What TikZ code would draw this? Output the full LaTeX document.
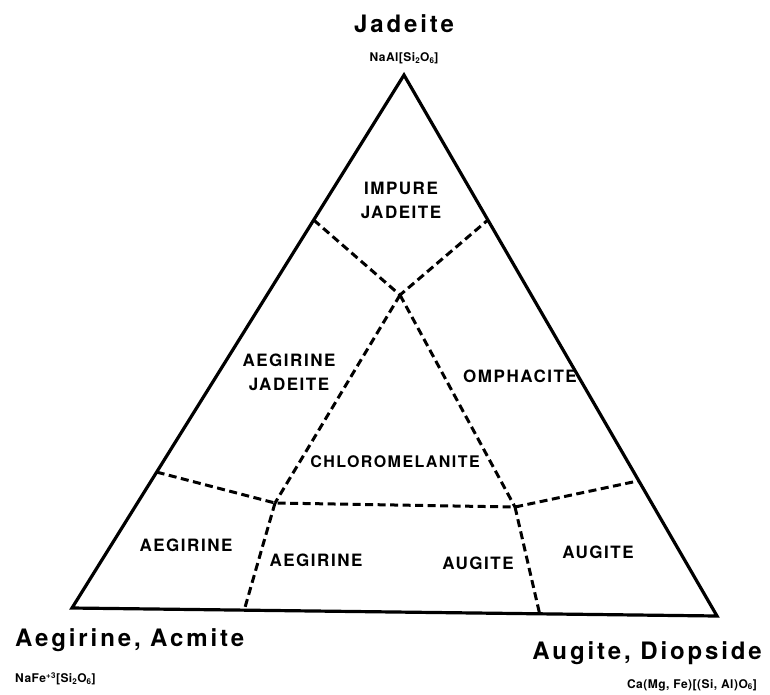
\documentclass[tikz,border=0pt]{standalone}
\usepackage{fontspec}
\setmainfont{TeX Gyre Heros}
\newfontfamily\titlefont[LetterSpace=12]{TeX Gyre Heros}
\newfontfamily\labfont[LetterSpace=9]{TeX Gyre Heros}
\newfontfamily\formfont[LetterSpace=4]{TeX Gyre Heros}
\usetikzlibrary{calc}
\begin{document}
\begin{tikzpicture}[x=1pt,y=-1pt,
  edge/.style={line width=3.2pt, line join=miter},
  bound/.style={line width=3pt, dash pattern=on 8pt off 4.5pt},
  title/.style={font=\titlefont\bfseries\fontsize{24}{28}\selectfont, inner sep=0pt},
  lab/.style={font=\labfont\bfseries\fontsize{17}{24}\selectfont, align=center, inner sep=0pt},
  form/.style={font=\formfont\bfseries\fontsize{12}{14}\selectfont, inner sep=0pt}]
\useasboundingbox (0,0) rectangle (770,694);
\coordinate (A) at (404,75);
\coordinate (L) at (72,608);
\coordinate (R) at (717,616);
\coordinate (J) at (400,295);
\coordinate (P) at (275,503);
\coordinate (Q) at (515,507);
\coordinate (e1) at ($(A)!0.272!(L)$);
\coordinate (e2) at ($(A)!0.268!(R)$);
\coordinate (e3) at ($(A)!0.745!(L)$);
\coordinate (e4) at ($(A)!0.75!(R)$);
\coordinate (b1) at ($(L)!0.267!(R)$);
\coordinate (b2) at ($(L)!0.725!(R)$);
\draw[edge] (A) -- (L) -- (R) -- cycle;
\draw[bound] (e1) -- (J) -- (e2);
\draw[bound] (J) -- (P);
\draw[bound] (J) -- (Q);
\draw[bound] (e3) -- (P) -- (Q) -- (e4);
\draw[bound] (P) -- (b1);
\draw[bound] (Q) -- (b2);

\node[title] (tJ) at (404,24) {Jadeite};
\node[form] (fJ) at (404,58) {NaAl[Si\textsubscript{2}O\textsubscript{6}]};
\node[title, anchor=west] (tA) at (15,640) {Aegirine, Acmite};
\node[form, anchor=west] (fA) at (15,679) {NaFe\textsuperscript{+3}[Si\textsubscript{2}O\textsubscript{6}]};
\node[title, anchor=east] (tD) at (762,653) {Augite, Diopside};
\node[form, anchor=east] (fD) at (757,685) {Ca(Mg, Fe)[(Si, Al)O\textsubscript{6}]};

\node[lab] (l1) at (401,200) {IMPURE\\JADEITE};
\node[lab] (l2) at (289,372) {AEGIRINE\\JADEITE};
\node[lab] (l3) at (520,376) {OMPHACITE};
\node[lab, font=\labfont\bfseries\fontsize{16}{22}\selectfont] (l4) at (395,462) {CHLOROMELANITE};
\node[lab] (l5) at (186,545) {AEGIRINE};
\node[lab] (l6) at (316,560) {AEGIRINE};
\node[lab] (l7) at (478,563) {AUGITE};
\node[lab] (l8) at (598,552) {AUGITE};
\end{tikzpicture}
\end{document}
